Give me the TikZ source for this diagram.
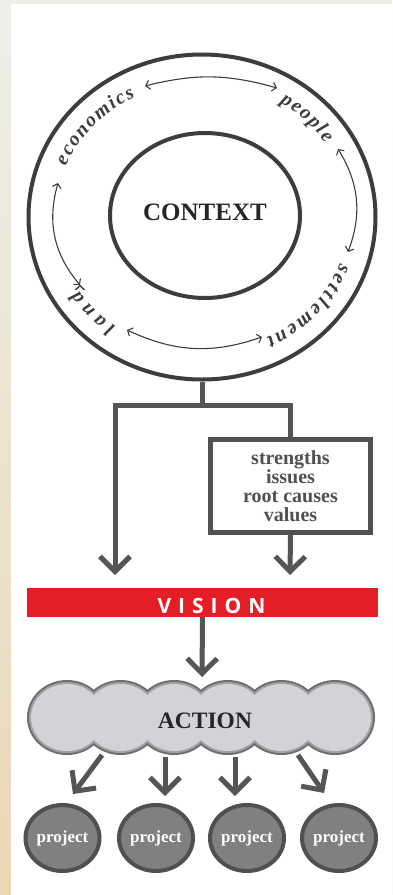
\documentclass[tikz,border=0pt]{standalone}
\usepackage{fontspec}
\setmainfont{Liberation Serif}
\newfontfamily\visfont{Open Sans}
\usetikzlibrary{arrows.meta,shapes.geometric,decorations.text}
\definecolor{ink}{HTML}{3D3D3D}
\definecolor{arrgray}{HTML}{555555}
\definecolor{visred}{HTML}{E31E26}
\definecolor{cloudfill}{HTML}{D3D3D7}
\definecolor{cloudline}{HTML}{6E6E6E}
\definecolor{cloudedge}{HTML}{A0A0A0}
\definecolor{projfill}{HTML}{808083}
\definecolor{bgtop}{HTML}{EDEFE9}
\definecolor{bgbot}{HTML}{EAD7B5}
\newcommand\lbl{\bfseries\itshape\fontsize{20}{20}\selectfont}
\newcommand\vsp{\kern7pt}

\tikzset{
  ring/.style={draw=ink, line width=4pt, ellipse, inner sep=0pt},
  link/.style={draw=arrgray, line width=5pt},
  chev/.style={link, -{Straight Barb[length=15pt,width=30pt]}},
  loopy/.style={draw=ink, line width=1.1pt, {Straight Barb[length=4pt,width=9pt]}-{Straight Barb[length=4pt,width=9pt]}},
  along/.style={decorate, decoration={text along path, text align={fit to path}, text color=ink, text={|\lbl|#1}}},
  project/.style={ellipse, draw=ink!90, line width=4pt, fill=projfill, minimum width=74pt, minimum height=66pt,
    inner sep=0pt, text=white, font=\bfseries\fontsize{17}{17}\selectfont}
}

\begin{document}
\begin{tikzpicture}[x=1pt,y=1pt]
  \useasboundingbox (0,0) rectangle (392,-895);
  \shade[top color=bgtop, bottom color=bgbot] (0,0) rectangle (392,-895);
  \fill[white] (11,-4) rectangle (392,-895);

  \node[ring, minimum width=347pt, minimum height=325pt] (outer) at (202,-217) {};
  \node[ring, minimum width=190pt, minimum height=165pt, text depth=6pt, text=black!85,
    font=\bfseries\fontsize{25}{25}\selectfont] (ctx) at (205,-215.5) {CONTEXT};

  \begin{scope}[shift={(202,-217)}]
    \path[along=economics] (158:147 and 135) arc[start angle=158, end angle=117, x radius=147, y radius=135];
    \path[along=people] (58:147 and 135) arc[start angle=58, end angle=33, x radius=147, y radius=135];
    \path[along=settlement] (-20:147 and 135) arc[start angle=-20, end angle=-64, x radius=147, y radius=135];
    \path[along=land] (-126:147 and 135) arc[start angle=-126, end angle=-147, x radius=147, y radius=135];
    \coordinate (e1) at (-57,131);
    \coordinate (p0) at (75,129);
    \coordinate (s0) at (136,68);
    \coordinate (s1) at (146,-35);
    \coordinate (l0) at (60,-120);
    \coordinate (l1) at (-75,-113);
    \coordinate (w0) at (-122,-68);
    \coordinate (w1) at (-144,34);
    \path[loopy]
      (e1) edge[bend left=15] (p0)
      (s0) edge[bend left=26] (s1)
      (l0) edge[bend left=22] (l1)
      (w0) edge[bend left=28] (w1);
  \end{scope}

  \coordinate (fork) at (202,-405);
  \coordinate (lt) at (115,-575);
  \coordinate (rt) at (290,-575);
  \node[draw=ink!90, line width=5pt, minimum width=160pt, minimum height=93pt, align=center,
    text=ink!90, font=\bfseries\fontsize{20}{19}\selectfont] (issues) at (290.5,-486)
    {strengths\\issues\\root causes\\values};
  \draw[link] (outer.south) -- (fork);
  \draw[chev] (fork) -| (lt);
  \draw[link] (fork) -| (issues.north);
  \draw[chev] (issues.south) -- (rt);

  \node[fill=visred, minimum width=351pt, minimum height=29pt, inner sep=0pt] (vis) at (202.5,-602.5) {};
  \node[text=white, inner sep=0pt, font=\visfont\bfseries\fontsize{21}{21}\selectfont]
    at ([xshift=9pt,yshift=-3pt]vis.center) {V\vsp I\vsp S\vsp I\vsp O\vsp N};

  \coordinate (vtip) at (202,-677);
  \draw[chev] (vis.south) -- (vtip);

  \foreach \i in {0,...,5}
    \draw[cloudline, line width=8pt] (67+53.6*\i,-717.5) ellipse[x radius=36, y radius=33.5];
  \foreach \i in {0,...,5}
    \draw[cloudedge, line width=4pt] (67+53.6*\i,-717.5) ellipse[x radius=36, y radius=33.5];
  \foreach \i in {0,...,5}
    \fill[cloudfill] (67+53.6*\i,-717.5) ellipse[x radius=36, y radius=33.5];
  \node[text=black!85, font=\bfseries\fontsize{23.5}{23.5}\selectfont] (act) at (205,-720.5) {ACTION};

  \node[project] (p1) at (62.5,-838) {project};
  \node[project] (p2) at (156,-838) {project};
  \node[project] (p3) at (247,-838) {project};
  \node[project] (p4) at (339,-838) {project};

  \coordinate (a1) at (102,-755);
  \coordinate (a2) at (165,-757);
  \coordinate (a3) at (235,-757);
  \coordinate (a4) at (298,-755);
  \coordinate (b1) at (73,-794);
  \coordinate (b2) at (165,-796);
  \coordinate (b3) at (235,-796);
  \coordinate (b4) at (324,-793);
  \foreach \k in {1,...,4}
    \draw[chev] (a\k) -- (b\k);
\end{tikzpicture}
\end{document}
